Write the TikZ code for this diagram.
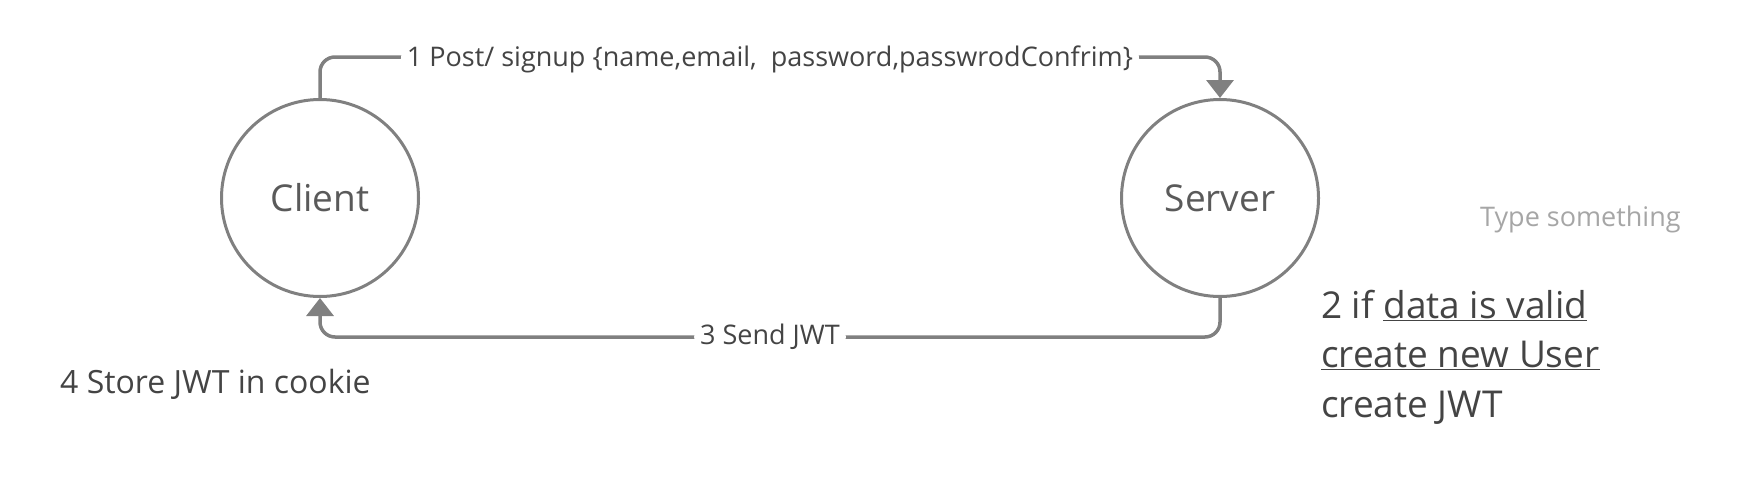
\documentclass[tikz,border=0pt]{standalone}
\usepackage{fontspec}
\setmainfont{Open Sans}
\usetikzlibrary{arrows.meta}
\definecolor{linegray}{HTML}{808080}
\definecolor{txtgray}{HTML}{5A5A5A}
\definecolor{darktxt}{HTML}{444444}
\definecolor{hintgray}{HTML}{A6A6A6}
\begin{document}
\begin{tikzpicture}[x=1pt,y=-1pt,
  actor/.style={circle,draw=linegray,line width=3pt,minimum size=197pt,inner sep=0pt,
    text=txtgray,font=\fontsize{37}{44}\selectfont},
  conn/.style={draw=linegray,line width=3.5pt,rounded corners=15pt,
    -{Triangle[width=27pt,length=18pt]}},
  connlabel/.style={fill=white,text=darktxt,font=\fontsize{27}{32}\selectfont,inner xsep=6pt,inner ysep=2pt},
  note/.style={text=darktxt,align=left,inner sep=0pt,anchor=base west}
]
\useasboundingbox (0,0) rectangle (1760,498);
\node[actor] (c) at (320,198) {Client};
\node[actor] (s) at (1220,198) {Server};
\coordinate (top) at (770,57);
\coordinate (bot) at (770,337);
\draw[conn] (c.north) -- (c.north |- top) -- (s.north |- top)
  node[midway,connlabel,yshift=-2pt] (l1) {1 Post/ signup \{name,email,\ \ password,passwrodConfrim\}}
  -- (s.north);
\draw[conn] (s.south) -- (s.south |- bot) -- (c.south |- bot)
  node[midway,connlabel] (l3) {3 Send JWT}
  -- (c.south);
\node[note,font=\fontsize{37}{49.5}\selectfont] (n2) at (1321,417)
  {2 if \underline{data is valid}\\\underline{create new User}\\create JWT};
\node[note,font=\fontsize{32}{38}\selectfont] (n4) at (60,393) {4 Store JWT in cookie};
\node[note,text=hintgray,font=\fontsize{27}{32}\selectfont] (hint) at (1480,226) {Type something};
\end{tikzpicture}
\end{document}
